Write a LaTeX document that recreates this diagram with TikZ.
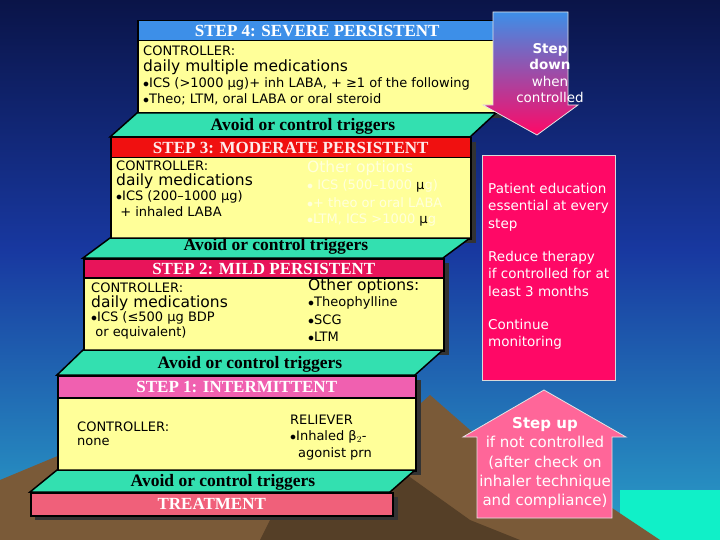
\documentclass[tikz,border=0pt]{standalone}
\usepackage{fontspec}
\setmainfont{Liberation Serif}
\newfontfamily\tah{DejaVu Sans}
\definecolor{bgtop}{HTML}{0A1448}
\definecolor{bgmid}{HTML}{1838A0}
\definecolor{bgbot}{HTML}{2AA0C8}
\definecolor{yel}{HTML}{FFFF99}
\definecolor{trig}{HTML}{33E0B0}
\definecolor{hfour}{HTML}{3D8FE8}
\definecolor{hthree}{HTML}{F01010}
\definecolor{htwo}{HTML}{E8145A}
\definecolor{hone}{HTML}{F060B0}
\definecolor{treat}{HTML}{F0607A}
\definecolor{rbox}{HTML}{FF0866}
\definecolor{upc}{HTML}{FF6699}
\definecolor{mnt}{HTML}{7A5A38}
\definecolor{sea}{HTML}{10F0C8}
\tikzset{
  hdr/.style={draw=black,line width=1.5pt,minimum height=20pt,inner sep=0pt,font=\bfseries\fontsize{17}{17}\selectfont,text=white,anchor=north west},
  ybox/.style={draw=black,line width=1.5pt,fill=yel,inner sep=0pt,anchor=north west},
  trg/.style={draw=black,line width=1.5pt,fill=trig},
  trtxt/.style={font=\bfseries\fontsize{17.5}{18}\selectfont},
  ln/.style={font=\tah\fontsize{13}{13}\selectfont,anchor=west,inner sep=0pt},
  big/.style={font=\tah\fontsize{15.5}{15.5}\selectfont,anchor=west,inner sep=0pt},
  wt/.style={font=\tah\fontsize{13.5}{17.3}\selectfont,text=white,align=left,anchor=north west,inner sep=0pt},
}
\begin{document}
\begin{tikzpicture}[x=1pt,y=-1pt]
\useasboundingbox (0,0) rectangle (720,540);
% background
\shade[top color=bgtop,bottom color=bgmid] (0,0) rectangle (720,250);
\shade[top color=bgmid,bottom color=bgbot] (0,249.5) rectangle (720,540);
\fill[sea] (620,490) rectangle (720,540);
\fill[mnt] (0,480) -- (60,455) -- (120,470) -- (200,440) -- (260,455) -- (330,420) -- (380,440) -- (430,395) -- (470,430) -- (530,470) -- (600,500) -- (660,540) -- (0,540) -- cycle;
\fill[mnt!70!black] (300,460) -- (360,430) -- (400,470) -- (470,520) -- (520,540) -- (260,540) -- cycle;
% shadows
\fill[black!80] (142,25) rectangle (502,118);
\fill[black!80] (115,142) rectangle (476,243);
\fill[black!80] (88,263) rectangle (449,355);
\fill[black!80] (62,380) rectangle (421,475);
\fill[black!80] (35,497) rectangle (398,520);
% step 4
\node[hdr,fill=hfour,minimum width=359pt] (h4) at (137,20) {STEP 4: SEVERE PERSISTENT};
\node[ybox,minimum width=359pt,minimum height=73pt] (y4) at (137,40) {};
\node[ln] (t4a) at (143,51) {CONTROLLER:};
\node[big] (t4b) at (143,67) {daily multiple medications};
\node[ln] (t4c) at (143,84) {$\bullet$ICS (>1000 μg)+ inh LABA, + ≥1 of the following};
\node[ln] (t4d) at (143,99) {$\bullet$Theo; LTM, oral LABA or oral steroid};
% trigger 3
\draw[trg] (137,113) -- (496,113) -- (470,137) -- (110,137) -- cycle;
\node[trtxt] (g3) at (303,126) {Avoid or control triggers};
% step 3
\node[hdr,fill=hthree,minimum width=360pt,text=white!92!red] (h3) at (110,137) {STEP 3: MODERATE PERSISTENT};
\node[ybox,minimum width=360pt,minimum height=81pt] (y3) at (110,157) {};
\node[ln] (t3a) at (116,166) {CONTROLLER:};
\node[big] (t3b) at (116,181) {daily medications};
\node[ln] (t3c) at (116,197) {$\bullet$ICS (200–1000 μg)};
\node[ln] (t3d) at (116,212) {\ + inhaled LABA};
\begin{scope}[every node/.append style={text=yel!35!white}]
\node[big] (o3a) at (307,168) {Other options};
\node[ln] (o3b) at (307,186) {$\bullet$ ICS (500–1000 {\color{black}μ}g)};
\node[ln] (o3c) at (307,203) {$\bullet$+ theo or oral LABA};
\node[ln] (o3d) at (307,220) {$\bullet$LTM, ICS >1000 {\color{black}μ}g};
\end{scope}
% trigger 2
\draw[trg] (110,238) -- (470,238) -- (443,258) -- (83,258) -- cycle;
\node[trtxt] (g2) at (276,246) {Avoid or control triggers};
% step 2
\node[hdr,fill=htwo,minimum width=360pt] (h2) at (83,258) {STEP 2: MILD PERSISTENT};
\node[ybox,minimum width=360pt,minimum height=73pt] (y2) at (83,277) {};
\node[ln] (t2a) at (91,288) {CONTROLLER:};
\node[big] (t2b) at (91,303) {daily medications};
\node[ln] (t2c) at (91,318) {$\bullet$ICS (≤500 μg BDP};
\node[ln] (t2d) at (91,333) {\ or equivalent)};
\node[big] (o2a) at (308,286) {Other options:};
\node[ln] (o2b) at (308,303) {$\bullet$Theophylline};
\node[ln] (o2c) at (308,320) {$\bullet$SCG};
\node[ln] (o2d) at (308,337) {$\bullet$LTM};
% trigger 1
\draw[trg] (83,350) -- (443,350) -- (415,375) -- (57,375) -- cycle;
\node[trtxt] (g1) at (250,364) {Avoid or control triggers};
% step 1
\node[hdr,fill=hone,minimum width=358pt,minimum height=22pt] (h1) at (57,375) {STEP 1: INTERMITTENT};
\node[ybox,minimum width=358pt,minimum height=73pt] (y1) at (57,397) {};
\node[ln] (t1a) at (77,427) {CONTROLLER:};
\node[ln] (t1b) at (77,442) {none};
\node[ln] (r1a) at (290,420) {RELIEVER};
\node[ln] (r1b) at (290,437) {$\bullet$Inhaled β$_2$-};
\node[ln] (r1c) at (298,454) {agonist prn};
% trigger 0
\draw[trg] (57,470) -- (415,470) -- (390,492) -- (30,492) -- cycle;
\node[trtxt] (g0) at (223,482) {Avoid or control triggers};
\node[hdr,fill=treat,minimum width=362pt,minimum height=23pt] (tr) at (30,492) {TREATMENT};
% step down arrow
\shade[top color=hfour,bottom color=rbox,draw=white!80!gray,line width=0.8pt] (493,12) -- (568,12) -- (568,105) -- (578,105) -- (537,135) -- (483,105) -- (493,105) -- cycle;
\node[font=\tah\fontsize{13.5}{16.5}\selectfont,text=white,align=center] (sd) at (550,73) {\textbf{Step}\\\textbf{down}\\when\\controlled};
% red box
\node[draw=white!70!gray,line width=0.8pt,fill=rbox,minimum width=133pt,minimum height=225pt,anchor=north west,inner sep=0pt] (rb) at (482,155) {};
\node[wt] (e1) at (488,183) {Patient education\\essential at every\\step};
\node[wt] (e2) at (488,251) {Reduce therapy\\if controlled for at\\least 3 months};
\node[wt] (e3) at (488,319) {Continue\\monitoring};
% step up arrow
\fill[upc,draw=white!80!gray,line width=0.8pt] (544,390) -- (626,437) -- (612,437) -- (612,518) -- (477,518) -- (477,437) -- (463,437) -- cycle;
\node[font=\tah\fontsize{15}{19.3}\selectfont,text=white,align=center] (su) at (545,463) {\textbf{Step up}\\if not controlled\\(after check on\\inhaler technique\\and compliance)};
\end{tikzpicture}
\end{document}
